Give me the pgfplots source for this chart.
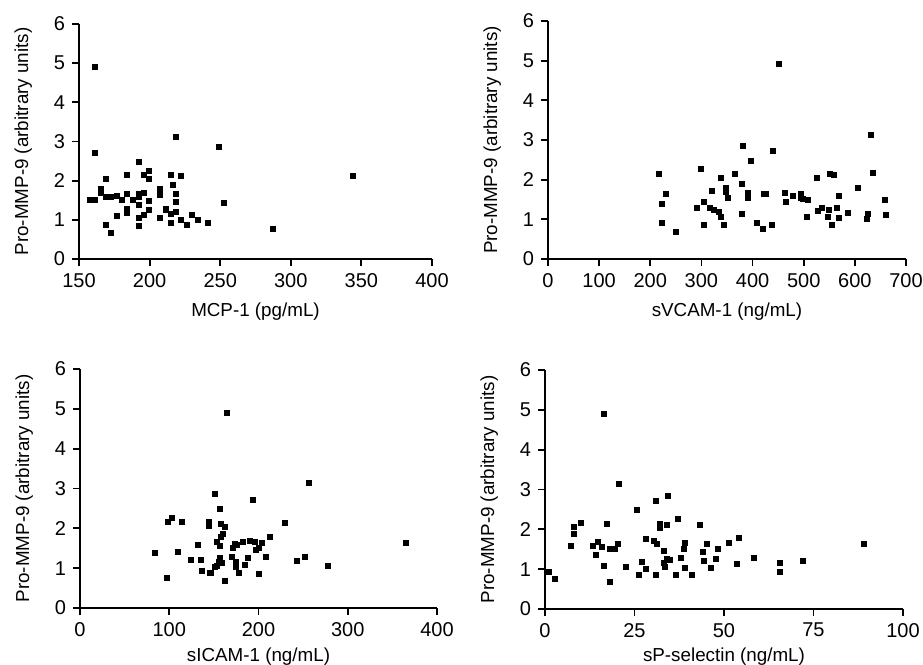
\documentclass[border=0pt]{standalone}
\usepackage{pgfplots}
\pgfplotsset{compat=1.18}
\usepackage{fontspec}
\setmainfont{Liberation Sans}

\pgfplotsset{
  panel/.style={
    scale only axis,
    axis lines=left,
    axis line style={-, line width=0.9pt},
    tick align=outside,
    major tick length=3.5pt,
    tick style={black, line width=0.9pt},
    ymin=0, ymax=6, ytick={0,1,...,6},
    enlargelimits=false,
    clip=false,
    /pgf/number format/assume math mode=true,
    tick label style={font=\fontsize{10}{12}\selectfont},
    label style={font=\fontsize{9.4}{11}\selectfont},
    ylabel={Pro-MMP-9 (arbitrary units)},
    ylabel style={yshift=4pt},
    xlabel style={yshift=-1pt},
  },
  dots/.style={only marks, mark=square*, mark size=1.25pt, black},
}

\begin{document}
\begin{tikzpicture}
\path[use as bounding box] (0,0) rectangle (461.5pt,332.5pt);

% MCP-1
\begin{axis}[panel, at={(39.5pt,203pt)}, anchor=south west,
  width=176.5pt, height=117.5pt,
  xmin=150, xmax=400, xtick={150,200,...,400},
  xlabel={MCP-1 (pg/mL)}]
\addplot[dots] coordinates {
(161.6,4.91) (161.6,2.71) (218.5,3.12) (249.2,2.85) (344.2,2.13) (287.5,0.77)
(252.7,1.42) (169.4,2.04) (192.3,2.49) (184.2,2.15) (195.8,2.15) (199.8,2.26)
(199.8,2.04) (215,2.14) (222.5,2.11) (216.8,1.88) (207.4,1.78) (207.4,1.63)
(218.5,1.67) (218.5,1.45) (218.5,1.21) (215,1.16) (211.2,1.29) (211.2,1.25)
(207.4,1.04) (222.5,1.01) (226.3,0.87) (230.1,1.13) (233.9,1.01) (241.6,0.92)
(215,0.93) (199.8,1.25) (199.8,1.49) (195.8,1.13) (195.8,1.70) (192.3,1.67)
(192.3,1.59) (192.3,1.38) (192.3,1.04) (192.3,0.85) (188.3,1.51) (180.5,1.51)
(184.2,1.67) (184.2,1.29) (184.2,1.22) (184.2,1.17) (176.7,1.62) (176.7,1.10)
(172.9,1.59) (169.4,1.59) (165.4,1.79) (165.4,1.74) (165.4,1.68) (157.8,1.51)
(161.6,1.51) (169.4,0.87) (172.9,0.67)
};
\end{axis}

% sVCAM-1
\begin{axis}[panel, at={(274pt,203pt)}, anchor=south west,
  width=179pt, height=119pt,
  xmin=0, xmax=700, xtick={0,100,...,700},
  xlabel={sVCAM-1 (ng/mL)}]
\addplot[dots] coordinates {
(451,4.92) (631,3.12) (381.5,2.85) (439,2.73) (397,2.48) (298,2.27)
(217,2.15) (338.5,2.05) (364.6,2.14) (526,2.05) (551,2.15) (560,2.12)
(636,2.16) (605,1.78) (380,1.89) (347.7,1.80) (347.7,1.69) (351.6,1.55)
(319.7,1.71) (229.8,1.63) (222.7,1.38) (222.7,0.92) (250.7,0.68) (291.7,1.28)
(305.3,1.45) (305.3,0.87) (317,1.30) (324,1.23) (333.3,1.19) (338.5,1.05)
(343,0.87) (378.3,1.14) (390.6,1.67) (390.6,1.54) (407.6,0.92) (419.3,0.77)
(423,1.63) (426,1.63) (437.5,0.87) (463,1.67) (466,1.43) (478,1.59)
(495.4,1.63) (495.4,1.53) (499,1.52) (509,1.49) (506.5,1.05) (528,1.22)
(536,1.28) (550,1.24) (548,1.05) (555,0.86) (564,1.30) (569,1.59)
(569,1.03) (586.6,1.16) (623,1.02) (626,1.13) (658,1.50) (661.5,1.10)
};
\end{axis}

% sICAM-1
\begin{axis}[panel, at={(40pt,28.5pt)}, anchor=south west,
  width=178.5pt, height=119.5pt,
  xmin=0, xmax=400, xtick={0,100,...,400},
  xlabel={sICAM-1 (ng/mL)}, xlabel style={yshift=2pt}]
\addplot[dots] coordinates {
(165,4.91) (257,3.13) (151.7,2.86) (193.4,2.71) (156.5,2.48) (102.9,2.25)
(99,2.15) (114,2.15) (144.6,2.15) (144.6,2.06) (157.7,2.12) (162,2.04)
(160,1.87) (158.4,1.79) (229.6,2.13) (212.4,1.79) (83.5,1.38) (110,1.42)
(132.3,1.59) (124,1.22) (135,1.22) (136.4,0.93) (146.8,0.87) (150.6,1.02)
(153,1.67) (156.5,1.55) (156.5,1.27) (155.7,1.16) (158.8,1.13) (162,0.69)
(170,1.28) (171.5,1.51) (173,1.61) (174.4,1.16) (175,1.02) (178,0.89)
(176.3,1.58) (182,1.67) (185,1.09) (188,1.25) (190,1.69) (196.4,1.65)
(197.5,1.45) (200,1.52) (204,1.63) (200.5,0.86) (208.7,1.29) (242.6,1.18)
(251.6,1.29) (277.3,1.06) (365.6,1.63) (97.3,0.76) (145.5,0.87) (153,1.05)
};
\end{axis}

% sP-selectin
\begin{axis}[panel, at={(272.5pt,28pt)}, anchor=south west,
  width=179pt, height=119.5pt,
  xmin=0, xmax=100, xtick={0,25,...,100},
  xlabel={sP-selectin (ng/mL)}, xlabel style={yshift=2.5pt}]
\addplot[dots] coordinates {
(16.4,4.91) (20.7,3.13) (34.4,2.85) (31,2.72) (25.8,2.48) (37,2.25)
(9.9,2.15) (8.1,2.05) (8.1,1.88) (17.4,2.14) (32,2.14) (32,2.04)
(34,2.12) (43.3,2.11) (7.1,1.58) (13.3,1.58) (14.9,1.68) (14.2,1.37)
(16,1.55) (16.4,1.09) (18.2,0.68) (18.2,1.51) (19.4,1.52) (20.4,1.63)
(22.5,1.05) (26.1,0.85) (27.2,1.18) (28.3,1.01) (28.3,1.77) (30.3,1.70)
(31.3,1.63) (31,0.86) (33.2,1.46) (33.2,1.16) (33.5,1.05) (34,1.25)
(34.8,1.24) (36.5,0.85) (37.9,1.29) (38.9,1.52) (39.2,1.67) (39.2,1.02)
(41,0.86) (44,1.43) (44.3,1.22) (45.1,1.63) (46.4,1.04) (47.8,1.27)
(48.3,1.50) (51.5,1.67) (54.2,1.79) (53.5,1.13) (58.4,1.29) (65.5,1.16)
(65.5,0.93) (72,1.21) (89,1.63) (1.2,0.92) (2.9,0.75)
};
\end{axis}
\end{tikzpicture}
\end{document}
